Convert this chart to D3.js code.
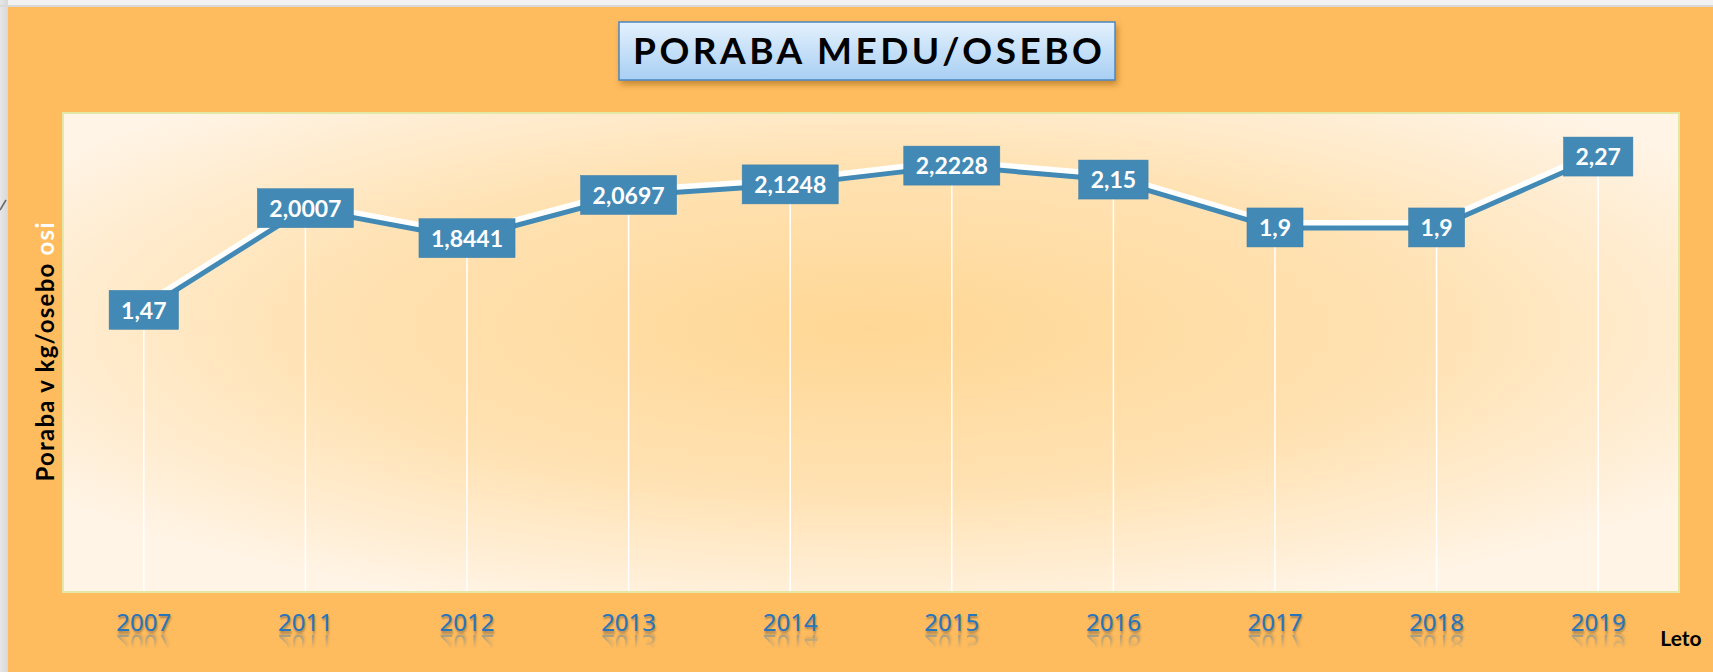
<!DOCTYPE html>
<html>
<head>
<meta charset="utf-8">
<script src="https://cdn.jsdelivr.net/npm/d3@7"></script>
<style>
  body { margin: 0; background: #f2f2f2; }
  svg { display: block; }
</style>
</head>
<body>
<svg id="chart" width="1713" height="672"></svg>
<script>
// data
const years = ['2007', '2011', '2012', '2013', '2014', '2015', '2016', '2017', '2018', '2019'];
const values = [1.47, 2.0007, 1.8441, 2.0697, 2.1248, 2.2228, 2.15, 1.9, 1.9, 2.27];
const valueLabels = ['1,47', '2,0007', '1,8441', '2,0697', '2,1248', '2,2228', '2,15', '1,9', '1,9', '2,27'];
const yDomain = [0, 2.5];

const svg = d3.select('#chart');
const width = +svg.attr('width');
const height = +svg.attr('height');
const plot = {left: 63, top: 113, right: 1679, bottom: 592};
const BLUE = '#428ab5';
const AXIS_Y = plot.bottom + 20;
const MIRROR_Y = 633;

const defs = svg.append('defs');

let bg = defs.append('radialGradient')
  .attr('id', 'plotBg')
  .attr('cx', 0.5).attr('cy', 0.45).attr('r', 0.62);
bg.append('stop').attr('offset', '0%').attr('stop-color', '#ffd795');
bg.append('stop').attr('offset', '55%').attr('stop-color', '#ffe2b3');
bg.append('stop').attr('offset', '100%').attr('stop-color', '#fff4e6');

let titleGrad = defs.append('linearGradient')
  .attr('id', 'titleBg')
  .attr('x1', 0).attr('y1', 0).attr('x2', 0).attr('y2', 1);
titleGrad.append('stop').attr('offset', '0%').attr('stop-color', '#e4f1fd');
titleGrad.append('stop').attr('offset', '100%').attr('stop-color', '#a8cff3');

let leftStrip = defs.append('linearGradient')
  .attr('id', 'leftStrip')
  .attr('x1', 0).attr('y1', 0).attr('x2', 1).attr('y2', 0);
leftStrip.append('stop').attr('offset', '0%').attr('stop-color', '#e6e6e6');
leftStrip.append('stop').attr('offset', '100%').attr('stop-color', '#d8d8d8');

// fading mask for the tick label reflections
let fade = defs.append('linearGradient')
  .attr('id', 'fade')
  .attr('x1', 0).attr('y1', 0).attr('x2', 0).attr('y2', 1);
fade.append('stop').attr('offset', '0%').attr('stop-color', '#fff').attr('stop-opacity', 0.5);
fade.append('stop').attr('offset', '100%').attr('stop-color', '#fff').attr('stop-opacity', 0);
defs.append('mask').attr('id', 'reflMask')
  .attr('maskUnits', 'userSpaceOnUse')
  .attr('x', 0).attr('y', 0).attr('width', width).attr('height', height)
  .append('rect')
  .attr('x', 0).attr('y', MIRROR_Y).attr('width', width).attr('height', 16)
  .attr('fill', 'url(#fade)');

let shadow = defs.append('filter').attr('id', 'titleShadow')
  .attr('x', '-10%').attr('y', '-30%').attr('width', '120%').attr('height', '170%');
shadow.append('feDropShadow')
  .attr('dx', 2).attr('dy', 4).attr('stdDeviation', 3)
  .attr('flood-color', '#7a4a00').attr('flood-opacity', 0.45);

// frame
svg.append('rect').attr('width', width).attr('height', height).attr('fill', '#f2f2f2');
svg.append('rect').attr('x', 0).attr('y', 0).attr('width', 8).attr('height', height).attr('fill', 'url(#leftStrip)');
svg.append('rect').attr('x', 0).attr('y', 5).attr('width', width).attr('height', 2).attr('fill', '#d9d9d9');
svg.append('rect').attr('x', 8).attr('y', 7).attr('width', width - 8).attr('height', height - 7).attr('fill', '#ffbc5e');
svg.append('line').attr('x1', 0).attr('y1', 210).attr('x2', 6).attr('y2', 200)
  .attr('stroke', '#666').attr('stroke-width', 1.5);

// plot area
svg.append('rect')
  .attr('x', plot.left).attr('y', plot.top)
  .attr('width', plot.right - plot.left).attr('height', plot.bottom - plot.top)
  .attr('fill', 'url(#plotBg)')
  .attr('stroke', '#e3e8a4').attr('stroke-width', 2);

const x = d3.scaleBand().domain(years).range([plot.left, plot.right]);
const y = d3.scaleLinear().domain(yDomain).range([plot.bottom, plot.top]);
const cx = d => x(d) + x.bandwidth() / 2;

const pts = years.map((yr, i) => ({year: yr, value: values[i], label: valueLabels[i]}));

// drop lines
svg.append('g').selectAll('line')
  .data(pts)
  .join('line')
  .attr('x1', d => cx(d.year)).attr('x2', d => cx(d.year))
  .attr('y1', d => y(d.value)).attr('y2', plot.bottom - 1)
  .attr('stroke', '#ffffff').attr('stroke-width', 1.5);

const line = d3.line().x(d => cx(d.year)).y(d => y(d.value));

svg.append('path')
  .datum(pts)
  .attr('d', line)
  .attr('transform', 'translate(-1,-5)')
  .attr('fill', 'none')
  .attr('stroke', '#ffffff')
  .attr('stroke-width', 6)
  .attr('stroke-linejoin', 'round');

svg.append('path')
  .datum(pts)
  .attr('d', line)
  .attr('fill', 'none')
  .attr('stroke', BLUE)
  .attr('stroke-width', 5)
  .attr('stroke-linejoin', 'round');

// value labels
let labels = svg.append('g').selectAll('g')
  .data(pts)
  .join('g')
  .attr('transform', d => 'translate(' + cx(d.year) + ',' + y(d.value) + ')');

labels.append('rect').attr('fill', BLUE).attr('stroke', '#3a7eaa').attr('stroke-width', 0.5);
let labelText = labels.append('text')
  .attr('text-anchor', 'middle')
  .attr('dy', '0.36em')
  .attr('fill', '#ffffff')
  .style('font-family', 'Lato, "Open Sans", sans-serif')
  .style('font-weight', 'bold')
  .style('font-size', '23px')
  .text(d => d.label);

labelText.each(function() {
  let w = this.getComputedTextLength();
  d3.select(this.parentNode).select('rect')
    .attr('x', -w / 2 - 12).attr('y', -20)
    .attr('width', w + 24).attr('height', 39);
});

// x axis
const xAxis = svg.append('g')
  .attr('transform', 'translate(0,' + AXIS_Y + ')')
  .call(d3.axisBottom(x).tickSize(0).tickPadding(0));
xAxis.select('.domain').remove();
xAxis.selectAll('text')
  .attr('id', (d, i) => 'tick' + i)
  .attr('dy', '0.8em')
  .attr('text-anchor', 'middle')
  .attr('fill', '#2675bd')
  .style('font-family', '"Noto Sans", "Open Sans", sans-serif')
  .style('font-size', '24px')
  .style('text-shadow', '1px 2px 2px rgba(60,60,60,0.45)');

// reflections of the tick labels (mirrored copies of the same text)
svg.append('g')
  .attr('mask', 'url(#reflMask)')
  .attr('text-anchor', 'middle')
  .selectAll('use')
  .data(years)
  .join('use')
  .attr('href', (d, i) => '#tick' + i)
  .attr('transform', d => 'translate(' + cx(d) + ',' + (MIRROR_Y * 2) + ') scale(1,-1) translate(0,' + AXIS_Y + ')');

svg.append('text')
  .attr('x', 1681).attr('y', 646)
  .attr('text-anchor', 'middle')
  .style('font-family', 'Lato, "Open Sans", sans-serif')
  .style('font-weight', 'bold')
  .style('font-size', '21px')
  .attr('fill', '#000')
  .text('Leto');

// y axis title
let yTitle = svg.append('text')
  .attr('transform', 'translate(54,352) rotate(-90)')
  .attr('text-anchor', 'middle')
  .attr('textLength', 259).attr('lengthAdjust', 'spacing')
  .style('font-family', 'Lato, "Open Sans", sans-serif')
  .style('font-weight', 'bold')
  .style('font-size', '24px');
yTitle.append('tspan').attr('fill', '#000').text('Poraba v kg/osebo ');
yTitle.append('tspan').attr('fill', '#ffffff').text('osi');

// title box
svg.append('rect')
  .attr('x', 619).attr('y', 22).attr('width', 496).attr('height', 58)
  .attr('fill', 'url(#titleBg)')
  .attr('stroke', '#4b87c1').attr('stroke-width', 1.5)
  .attr('filter', 'url(#titleShadow)');

svg.append('text')
  .attr('x', 633).attr('y', 64)
  .attr('textLength', 469).attr('lengthAdjust', 'spacing')
  .style('font-family', 'Lato, "Open Sans", sans-serif')
  .style('font-weight', 'bold')
  .style('font-size', '37px')
  .attr('fill', '#000')
  .text('PORABA MEDU/OSEBO');
</script>
</body>
</html>
